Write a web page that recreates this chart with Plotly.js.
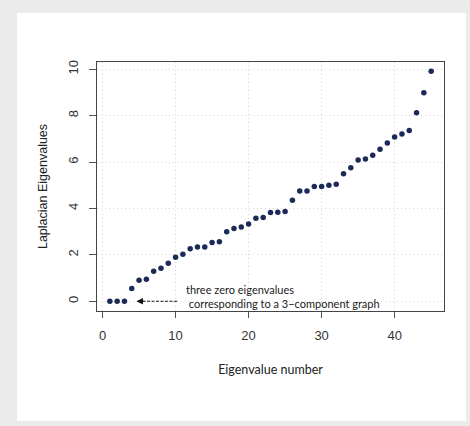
<!DOCTYPE html>
<html>
<head>
<meta charset="utf-8">
<script src="https://cdn.plot.ly/plotly-3.0.1.min.js"></script>
<style>
html,body{margin:0;padding:0;background:#ebebeb;width:470px;height:426px;overflow:hidden;}
#chart{position:absolute;left:17px;top:13px;width:449px;height:408px;background:#fff;}
</style>
</head>
<body>
<div id="chart"></div>
<script>
const eigenIndex = Array.from({length:45}, (_, i) => i + 1);
const eigenValues = [0,0,0,0.55,0.90,0.95,1.29,1.42,1.64,1.90,2.03,2.26,2.34,2.34,2.53,2.56,3.00,3.13,3.20,3.33,3.58,3.61,3.82,3.83,3.87,4.35,4.75,4.75,4.94,4.94,5.00,5.04,5.49,5.75,6.09,6.13,6.29,6.55,6.82,7.08,7.21,7.36,8.12,8.98,9.91];
const xTicks = [0,10,20,30,40];
const yTicks = [0,2,4,6,8,10];
const arrowFrom = [10.2, 0];
const arrowTo = [4.64, 0];
const noteX = 11.2;
const noteLines = ["three zero eigenvalues", "\u00a0corresponding to a 3\u2212component graph"];

const tickFont = {family:"Liberation Sans, Arial, sans-serif", size:13, color:"#333"};
const labelFont = {family:"Lato, sans-serif", size:12.5, color:"#222"};

const trace = {
  x: eigenIndex, y: eigenValues, type:"scatter", mode:"markers",
  marker:{color:"#1b2a57", size:5.5},
  hoverinfo:"skip", showlegend:false
};

const gridStyle = {showgrid:true, gridcolor:"#d4d4d4", griddash:"1px,3px", gridwidth:1};

const layout = {
  width:449, height:408,
  paper_bgcolor:"#fff", plot_bgcolor:"#fff",
  margin:{l:80, r:21.7, t:48.7, b:110.3},
  xaxis:Object.assign({
    range:[-0.76, 46.76], tickvals:xTicks, ticktext:xTicks.map(String),
    zeroline:false, showline:true, mirror:true, linecolor:"#444", linewidth:1,
    ticks:"outside", ticklen:6, tickcolor:"#555", tickfont:tickFont,
    ticklabelstandoff:6,
    title:{text:"Eigenvalue number", font:labelFont, standoff:23}
  }, gridStyle),
  yaxis:Object.assign({
    range:[-0.42, 10.31], tickvals:yTicks, ticktext:yTicks.map(String),
    zeroline:false, showline:true, mirror:true, linecolor:"#444", linewidth:1,
    ticks:"outside", ticklen:7, tickcolor:"#555", tickfont:tickFont, tickangle:-90,
    ticklabelstandoff:6,
    title:{text:"Laplacian Eigenvalues", font:{family:"Liberation Sans, Arial, sans-serif", size:12.5, color:"#222"}, standoff:15}
  }, gridStyle),
  shapes:[{
    type:"line", xref:"x", yref:"y",
    x0:arrowFrom[0], y0:arrowFrom[1], x1:arrowTo[0]+0.9, y1:arrowTo[1],
    line:{color:"#111", width:1, dash:"3px,1.5px"}
  }],
  annotations:[
    {x:arrowTo[0], y:arrowTo[1], xref:"x", yref:"y", axref:"x", ayref:"y",
     ax:arrowTo[0]+1.2, ay:arrowTo[1], text:"", showarrow:true,
     arrowhead:2, arrowsize:1.3, arrowwidth:1, arrowcolor:"#111", standoff:0},
    {x:noteX, y:0, xref:"x", yref:"y", xanchor:"left", yanchor:"bottom", yshift:3,
     text:noteLines[0], showarrow:false, font:{family:"Lato, sans-serif", size:11, color:"#222"}},
    {x:noteX, y:0, xref:"x", yref:"y", xanchor:"left", yanchor:"top", yshift:6,
     text:noteLines[1], showarrow:false, font:{family:"Lato, sans-serif", size:11, color:"#222"}}
  ]
};

Plotly.newPlot("chart", [trace], layout, {displayModeBar:false, staticPlot:true});
</script>
</body>
</html>
